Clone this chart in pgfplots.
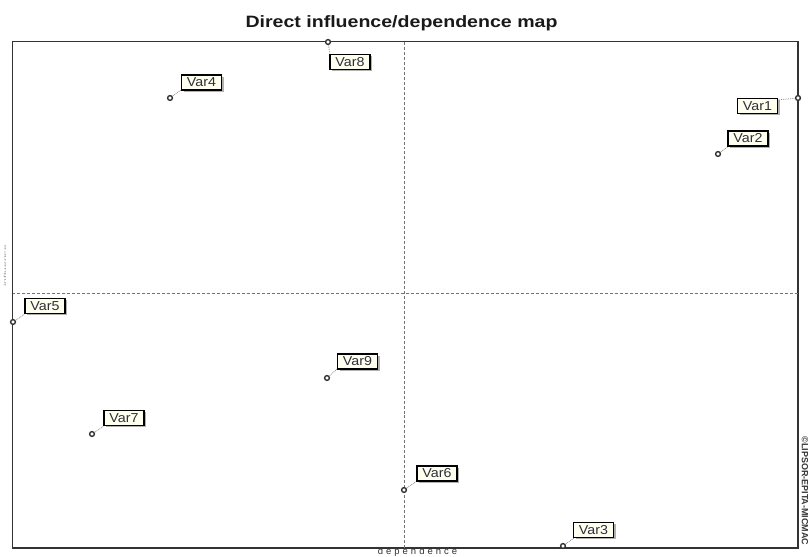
\documentclass[border=0pt]{standalone}
\usepackage{pgfplots}
\pgfplotsset{compat=1.18}
\usepackage{pgfplotstable}
\usepackage{fontspec}
\setmainfont{Liberation Sans}
\usetikzlibrary{shadows}
\definecolor{lblfill}{HTML}{FFFFF0}
\definecolor{lbltext}{HTML}{2E2E3A}
\definecolor{frame}{HTML}{333333}

% dependence (x), influence (y)
\pgfplotstableread{
x   y    lx     ly     ex   ey
798 459  757.5  451    777  457
718 403  748    418.5  729  411
563 11   593.5  27     574  19
170 459  201.5  474.5  181  467
13  235  45     251    25   243
404 67   437    83.5   417  76
92  123  124    139    104  131
328 515  350    495    330  502
327 179  357.5  195.5  337  188
}\points

\begin{document}
\begin{tikzpicture}[
  lbl/.style={draw=black, line width=1.1bp, fill=lblfill, text=lbltext,
    drop shadow={shadow xshift=2bp, shadow yshift=-2bp, fill=black!60},
    minimum width=40bp, minimum height=15bp, inner sep=0pt,
    font=\fontsize{13}{13}\selectfont},
  lead/.style={black!45, densely dotted, line width=0.8bp}
]
\begin{axis}[
  name=ax, scale only axis, width=785.5bp, height=506.5bp,
  xmin=12.5, xmax=798, ymin=9, ymax=515.5,
  axis lines=box, xtick=\empty, ytick=\empty,
  axis line style={frame, line width=1.3bp},
  clip=false,
]
\coordinate (bl) at (rel axis cs:0,0);
% quadrant lines
\draw[black!55, densely dashed, line width=0.6bp] (axis cs:404,9) -- (axis cs:404,515.5);
\draw[black!55, densely dashed, line width=0.6bp] (axis cs:12.5,264) -- (axis cs:798,264);
% leader lines
\draw[lead] (axis cs:798,459) -- (axis cs:777,457);
\draw[lead] (axis cs:718,403) -- (axis cs:729,411);
\draw[lead] (axis cs:563,11) -- (axis cs:574,19);
\draw[lead] (axis cs:170,459) -- (axis cs:181,467);
\draw[lead] (axis cs:13,235) -- (axis cs:25,243);
\draw[lead] (axis cs:404,67) -- (axis cs:417,76);
\draw[lead] (axis cs:92,123) -- (axis cs:104,131);
\draw[lead] (axis cs:328,515) -- (axis cs:330,502);
\draw[lead] (axis cs:327,179) -- (axis cs:337,188);
% points
\addplot[only marks, mark=*, mark size=2.4bp,
  mark options={draw=black!80, line width=1.4bp, fill=white}]
  table[x=x, y=y] {\points};
% labels
\node[lbl] at (axis cs:757.5,451) {\scalebox{1.1}[1]{Var1}};
\node[lbl] at (axis cs:748,418.5) {\scalebox{1.1}[1]{Var2}};
\node[lbl] at (axis cs:593.5,27) {\scalebox{1.1}[1]{Var3}};
\node[lbl] at (axis cs:201.5,474.5) {\scalebox{1.1}[1]{Var4}};
\node[lbl] at (axis cs:45,251) {\scalebox{1.1}[1]{Var5}};
\node[lbl] at (axis cs:437,83.5) {\scalebox{1.1}[1]{Var6}};
\node[lbl] at (axis cs:124,139) {\scalebox{1.1}[1]{Var7}};
\node[lbl] at (axis cs:350,495) {\scalebox{1.1}[1]{Var8}};
\node[lbl] at (axis cs:357.5,195.5) {\scalebox{1.1}[1]{Var9}};
% title and axis texts
\node[anchor=base, text=black!90, inner sep=0pt] at (axis cs:401.5,529.3)
  {\scalebox{1.19}[1]{\fontsize{16.5}{16.5}\selectfont\bfseries Direct influence/dependence map}};
\node[anchor=base, text=black!80, inner sep=0pt] at (axis cs:417.5,2.4)
  {\fontsize{9.5}{9.5}\selectfont\addfontfeature{LetterSpace=32}dependence};
\node[rotate=90, text=black!40, inner sep=0pt] at (axis cs:5,291)
  {\scalebox{1}[0.3]{\fontsize{10.5}{10.5}\selectfont influence}};
\node[rotate=-90, text=black!80, inner sep=0pt] at (axis cs:805,66)
  {\fontsize{9}{9}\selectfont\bfseries \textcopyright LIPSOR-EPITA-MICMAC};
\end{axis}
\pgfresetboundingbox
\path[use as bounding box] (bl) ++(-12.5bp,-9bp) rectangle ++(811bp,557bp);
\end{tikzpicture}
\end{document}
